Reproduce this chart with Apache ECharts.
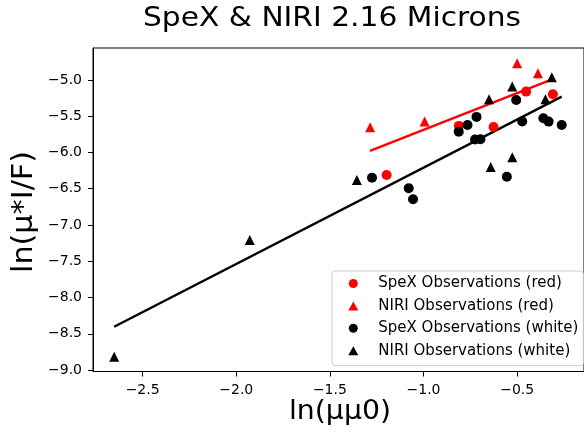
<!DOCTYPE html>
<html>
<head>
<meta charset="utf-8">
<script src="https://cdn.jsdelivr.net/npm/echarts@6/dist/echarts.min.js"></script>
<style>
html, body { margin: 0; padding: 0; background: #fff; }
#chartContainer { width: 584px; height: 433px; }
</style>
</head>
<body>
<div id="chartContainer"></div>
<script>
// points
var spexRedX = [-1.197, -0.811, -0.626, -0.452, -0.309];
var spexRedY = [-6.310, -5.634, -5.648, -5.161, -5.197];
var niriRedX = [-1.285, -0.994, -0.500, -0.389];
var niriRedY = [-5.652, -5.575, -4.770, -4.908];
var spexWhiteX = [-1.275, -1.079, -1.056, -0.812, -0.765, -0.717, -0.725, -0.696, -0.555, -0.505, -0.473, -0.360, -0.332, -0.262];
var spexWhiteY = [-6.348, -6.494, -6.646, -5.713, -5.621, -5.510, -5.821, -5.818, -6.334, -5.276, -5.572, -5.528, -5.575, -5.621];
var niriWhiteX = [-2.652, -1.928, -1.356, -0.650, -0.526, -0.315, -0.349, -0.641, -0.526];
var niriWhiteY = [-8.817, -7.207, -6.379, -5.266, -5.090, -4.963, -5.266, -6.200, -6.066];

// fitted lines (end points)
var redFitX = [-1.286, -0.310];
var redFitY = [-5.979, -4.990];
var whiteFitX = [-2.652, -0.262];
var whiteFitY = [-8.403, -5.230];

var xTicks = [-2.5, -2.0, -1.5, -1.0, -0.5];
var yTicks = [-9.0, -8.5, -8.0, -7.5, -7.0, -6.5, -6.0, -5.5, -5.0];

var font = 'DejaVu Sans';

function pairs(xs, ys) {
    var out = [];
    for (var i = 0; i < xs.length; i++) {
        out.push([xs[i], ys[i]]);
    }
    return out;
}

function tickLabel(v) {
    return (v < 0 ? '\u2212' : '') + Math.abs(v).toFixed(1);
}

var chart = echarts.init(document.getElementById('chartContainer'), null, {renderer: 'canvas'});
var option = {
    animation: false,
    backgroundColor: '#fff',
    grid: {
        left: 93, top: 48, right: -4.2, bottom: 61.5,
        show: true, borderColor: '#000', borderWidth: 1
    },
    xAxis: {
        type: 'value',
        min: -2.765,
        max: -0.143,
        splitLine: {show: false},
        axisLine: {show: true, onZero: false, lineStyle: {color: '#000', width: 1}},
        axisTick: {show: true, length: 5, customValues: xTicks, lineStyle: {color: '#000'}},
        axisLabel: {
            customValues: xTicks, formatter: tickLabel, margin: 12,
            fontFamily: font, fontSize: 14, color: '#000'
        }
    },
    yAxis: {
        type: 'value',
        min: -9.02,
        max: -4.56,
        splitLine: {show: false},
        axisLine: {show: true, onZero: false, lineStyle: {color: '#000', width: 1}},
        axisTick: {show: true, length: 5, customValues: yTicks, lineStyle: {color: '#000'}},
        axisLabel: {
            customValues: yTicks, formatter: tickLabel, margin: 11,
            fontFamily: font, fontSize: 14, color: '#000'
        }
    },
    legend: {
        orient: 'vertical',
        left: 332, top: 271,
        backgroundColor: '#fff',
        borderColor: '#ccc', borderWidth: 1, borderRadius: 3,
        padding: [5, 5, 7.5, 16.3],
        itemWidth: 10, itemHeight: 9, itemGap: 7.4,
        symbolKeepAspect: true,
        textStyle: {fontFamily: font, fontSize: 15, color: '#000', padding: [0, 0, 0, 15]},
        data: ['SpeX Observations (red)', 'NIRI Observations (red)',
               'SpeX Observations (white)', 'NIRI Observations (white)']
    },
    graphic: [
        {type: 'text', x: 332, y: 19, scaleX: 1.1, style: {text: 'SpeX & NIRI 2.16 Microns', font: '27px "DejaVu Sans"', fill: '#000', align: 'center', verticalAlign: 'middle'}},
        {type: 'text', x: 340, y: 412, scaleX: 1.05, style: {text: 'ln(μμ0)', font: '27px "DejaVu Sans"', fill: '#000', align: 'center', verticalAlign: 'middle'}},
        {type: 'text', x: 25, y: 212, rotation: Math.PI / 2, scaleX: 1.08, style: {text: 'ln(μ*I/F)', font: '28px "DejaVu Sans"', fill: '#000', align: 'center', verticalAlign: 'middle'}}
    ],
    series: [
        {
            name: 'red fit', type: 'line', data: pairs(redFitX, redFitY),
            symbol: 'none', lineStyle: {color: '#ff0000', width: 2.4}, z: 1
        },
        {
            name: 'white fit', type: 'line', data: pairs(whiteFitX, whiteFitY),
            symbol: 'none', lineStyle: {color: '#000', width: 2.4}, z: 1
        },
        {
            name: 'SpeX Observations (red)', type: 'scatter', symbol: 'circle', symbolSize: 10,
            itemStyle: {color: '#ff0000', opacity: 1}, data: pairs(spexRedX, spexRedY), z: 2
        },
        {
            name: 'NIRI Observations (red)', type: 'scatter', symbol: 'triangle', symbolSize: 10,
            symbolKeepAspect: true,
            itemStyle: {color: '#ff0000', opacity: 1}, data: pairs(niriRedX, niriRedY), z: 2
        },
        {
            name: 'SpeX Observations (white)', type: 'scatter', symbol: 'circle', symbolSize: 10,
            itemStyle: {color: '#000', opacity: 1}, data: pairs(spexWhiteX, spexWhiteY), z: 3
        },
        {
            name: 'NIRI Observations (white)', type: 'scatter', symbol: 'triangle', symbolSize: 10,
            symbolKeepAspect: true,
            itemStyle: {color: '#000', opacity: 1}, data: pairs(niriWhiteX, niriWhiteY), z: 3
        }
    ]
};
chart.setOption(option);
</script>
</body>
</html>
